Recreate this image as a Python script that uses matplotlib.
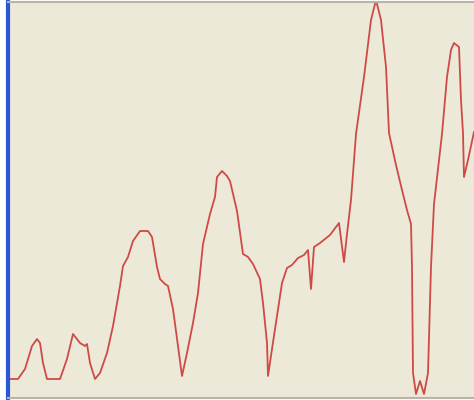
import matplotlib
matplotlib.use("Agg")
import matplotlib.pyplot as plt

# sample positions and signal level (0 = bottom edge, 400 = top edge)
xs = [10, 18, 25, 32, 37, 40, 43, 47, 60, 67, 73, 80, 85, 87, 90, 95,
      100, 107, 113, 120, 123, 128, 133, 140, 148, 152, 157, 160, 165, 168,
      173, 178, 182, 187, 193, 198, 203, 210, 215, 217, 222, 227, 230, 237,
      243, 248, 253, 260, 263, 267, 268, 272, 277, 282, 287, 292, 298, 304,
      308, 311, 314, 320, 330, 339, 344, 347, 351, 356, 364, 371, 376, 381,
      386, 389, 396, 402, 407, 411, 412, 413, 416, 420, 424, 428, 431, 434,
      442, 447, 451, 454, 459, 461, 463, 464, 468, 474]
ypix = [379, 379, 369, 346, 339, 343, 363, 379, 379, 359, 334, 343, 346, 344, 363, 379,
        373, 353, 326, 286, 266, 257, 241, 231, 231, 237, 267, 279, 284, 286,
        309, 346, 376, 353, 323, 293, 244, 214, 197, 177, 171, 176, 181, 211,
        254, 257, 264, 279, 303, 343, 376, 349, 316, 283, 268, 265, 258, 255,
        250, 289, 247, 243, 235, 223, 262, 234, 200, 134, 77, 20, 0, 20,
        67, 133, 165, 190, 210, 224, 267, 373, 394, 381, 394, 373, 267, 204,
        134, 77, 50, 43, 47, 100, 133, 177, 160, 132]
level = [400 - v for v in ypix]

fig = plt.figure(figsize=(4.74, 4.00), dpi=100, facecolor="white")
ax = fig.add_axes([8 / 474, 2 / 400, 466 / 474, 396 / 400])
ax.set_facecolor("#ECE9D8")
ax.plot(xs, level, color="#cf4a46", lw=1.3, solid_joinstyle="round")
ax.set_xlim(8, 474)
ax.set_ylim(2, 398)
ax.set_xticks([])
ax.set_yticks([])

ax.spines["left"].set_color("#2a55d6")
ax.spines["left"].set_linewidth(3.0)
ax.spines["top"].set_color("#b8b4a8")
ax.spines["top"].set_linewidth(1.5)
ax.spines["bottom"].set_color("#b8b4a8")
ax.spines["bottom"].set_linewidth(1.5)
ax.spines["right"].set_visible(False)

fig.savefig("out.png", dpi=100, facecolor=fig.get_facecolor())
